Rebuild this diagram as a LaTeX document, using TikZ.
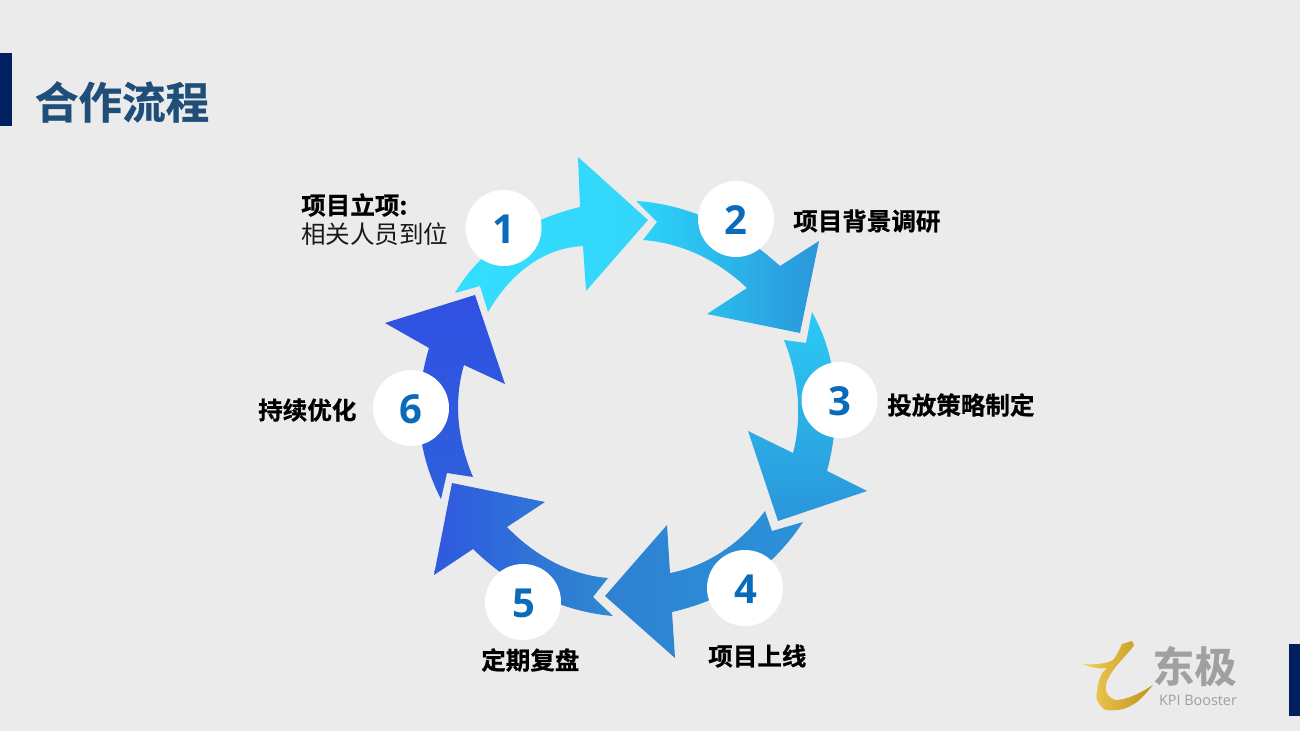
\documentclass[tikz,border=0pt]{standalone}
\usepackage{fontspec}
\setmainfont{Noto Sans CJK SC}
\newfontfamily\heavyfont[FakeBold=0.7]{Noto Sans CJK SC Bold}
\newfontfamily\digitfont{Open Sans}
\newfontfamily\latinfont{Open Sans}
\definecolor{bgc}{HTML}{EBEBEB}
\definecolor{navy}{HTML}{002060}
\definecolor{titlec}{HTML}{1F4E79}
\definecolor{numc}{HTML}{0A6BBB}
\definecolor{logogrey}{HTML}{A0A0A0}
\newlength{\pxu}\setlength{\pxu}{0.75pt}
\tikzset{
  numdisc/.style={circle,fill=white,minimum size=76\pxu,inner sep=0pt,text=numc},
  numtext/.style={inner sep=0pt,font=\digitfont\bfseries\fontsize{30}{30}\selectfont,text=numc},
  steplabel/.style={font=\heavyfont\fontsize{18.4}{20}\selectfont,text=black,inner sep=0pt},
  arrowshape/.style={draw=none},
}
\begin{document}
\begin{tikzpicture}[x=0.75pt,y=-0.75pt]
\useasboundingbox (0,0) rectangle (1300,731);
\fill[bgc] (0,0) rectangle (1300,731);
\fill[navy] (0,53) rectangle (12,126);
\fill[navy] (1289,644) rectangle (1300,716);
\node[font=\heavyfont\fontsize{32.7}{36}\selectfont,text=titlec,inner sep=0pt] (title) at (122,102) {合作流程};

% Arrow 1
\shade[arrowshape,left color={rgb,255:red,51;green,222;blue,255},right color={rgb,255:red,51;green,214;blue,250}]
 (455,293) .. controls (480,250) and (525,220) .. (580,207)
 -- (578,157) -- (648,220) -- (586,291) -- (583,246)
 .. controls (545,248) and (512,271) .. (488,312) -- (480,286) -- cycle;
% Arrow 2
\shade[arrowshape,shading angle=140,left color={rgb,255:red,44;green,214;blue,250},right color={rgb,255:red,42;green,150;blue,218}]
 (636,201) .. controls (685,204) and (735,225) .. (780,266)
 -- (819,241) -- (800,333) -- (707,314) -- (747,288)
 .. controls (715,258) and (680,243) .. (643,240) -- (657,222) -- cycle;
% Arrow 3
\shade[arrowshape,top color={rgb,255:red,44;green,202;blue,245},bottom color={rgb,255:red,42;green,150;blue,218}]
 (812,312) .. controls (838,358) and (842,415) .. (827,471)
 -- (867,491) -- (778,521) -- (748,431) -- (793,453)
 .. controls (803,415) and (798,375) .. (784,340) -- (806,343) -- cycle;
% Arrow 4
\shade[arrowshape,left color={rgb,255:red,47;green,128;blue,210},right color={rgb,255:red,42;green,146;blue,216}]
 (803,522) .. controls (770,572) and (725,600) .. (672,612)
 -- (675,658) -- (605,596) -- (667,525) -- (670,573)
 .. controls (707,566) and (740,544) .. (765,511) -- (772,531) -- cycle;
% Arrow 5
\shade[arrowshape,left color={rgb,255:red,48;green,88;blue,224},right color={rgb,255:red,46;green,138;blue,206}]
 (613,616) .. controls (565,612) and (515,590) .. (473,549)
 -- (434,575) -- (452,483) -- (545,502) -- (507,527)
 .. controls (535,556) and (570,575) .. (608,578) -- (593,597) -- cycle;
% Arrow 6
\shade[arrowshape,top color={rgb,255:red,48;green,80;blue,226},bottom color={rgb,255:red,46;green,96;blue,220}]
 (441,499) .. controls (418,455) and (412,405) .. (429,348)
 -- (385,323) -- (475,295) -- (505,384) -- (464,365)
 .. controls (453,402) and (458,442) .. (473,477) -- (447,473) -- cycle;

\node[numdisc] (n1) at (503.5,228) {};
\node[numdisc] (n2) at (736,219) {};
\node[numdisc] (n3) at (839.5,400) {};
\node[numdisc] (n4) at (745,588) {};
\node[numdisc] (n5) at (523,602) {};
\node[numdisc] (n6) at (411,408) {};
\node[numtext] (d1) at (503.5,229) {1};
\node[numtext] (d2) at (736,220) {2};
\node[numtext] (d3) at (840,401) {3};
\node[numtext] (d4) at (745.5,589) {4};
\node[numtext] (d5) at (524,603) {5};
\node[numtext] (d6) at (411,409) {6};

\node[steplabel,anchor=west] (l1a) at (301,205) {项目立项:};
\node[font=\fontsize{18.4}{20}\selectfont,text=black!90,inner sep=0pt,anchor=west] (l1b) at (301,234) {相关人员到位};
\node[steplabel,anchor=west] (l2) at (793,221) {项目背景调研};
\node[steplabel,anchor=west] (l3) at (887,405) {投放策略制定};
\node[steplabel,anchor=west] (l4) at (708,656) {项目上线};
\node[steplabel,anchor=west] (l5) at (481,660) {定期复盘};
\node[steplabel,anchor=west] (l6) at (258,410) {持续优化};

% logo
\shade[left color={rgb,255:red,242;green,208;blue,85},right color={rgb,255:red,190;green,145;blue,30}]
 (1083,664) .. controls (1095,665) and (1105,664) .. (1113,660)
 .. controls (1118,654) and (1120,648) .. (1122,644)
 -- (1132,641) -- (1134,645)
 .. controls (1130,652) and (1118,662) .. (1110,675)
 .. controls (1104,685) and (1103,695) .. (1115,700)
 .. controls (1128,700) and (1142,692) .. (1153,685)
 .. controls (1147,692) and (1142,698) .. (1137,702)
 .. controls (1128,708) and (1122,710) .. (1117,710)
 .. controls (1108,711) and (1103,710) .. (1103,708)
 .. controls (1097,703) and (1095,697) .. (1097,692)
 .. controls (1097,685) and (1100,678) .. (1102,673)
 -- (1107,668) .. controls (1100,669) and (1092,668) .. (1083,664) -- cycle;
\node[font=\heavyfont\fontsize{31.5}{32}\selectfont,text=logogrey,inner sep=0pt] (logoa) at (1194.5,666) {东极};
\node[font=\latinfont\fontsize{10.8}{12}\selectfont,text=logogrey,inner sep=0pt] (logob) at (1198,700) {KPI Booster};
\end{tikzpicture}
\end{document}
